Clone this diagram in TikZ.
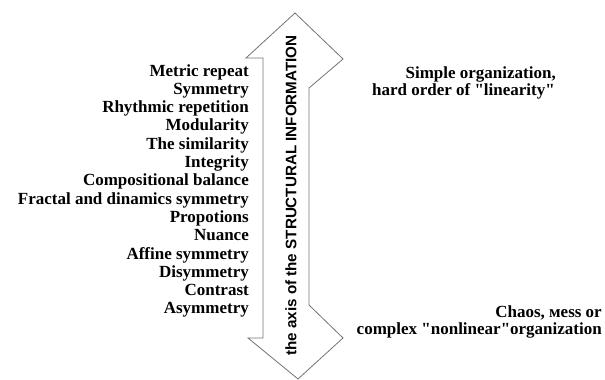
\documentclass[tikz,border=0pt]{standalone}
\usepackage{fontspec}
\newfontfamily\serifbold{Liberation Serif Bold}
\newfontfamily\axisfont{Liberation Sans Bold}
\tikzset{
  item/.style={anchor=base east, inner sep=0pt, font=\serifbold\fontsize{17}{18}\selectfont, text=black},
  note/.style={anchor=base east, inner sep=0pt, font=\serifbold\fontsize{17}{18}\selectfont, text=black},
  axisline/.style={draw=black!55, line width=0.8pt, line join=miter},
  axislabel/.style={inner sep=0pt, rotate=90, font=\axisfont\fontsize{15.2}{16}\selectfont, text=black}
}
\begin{document}
\begin{tikzpicture}[x=1pt,y=-1pt]
\useasboundingbox (0,0) rectangle (605,380);
% double arrow
\coordinate (tt) at (295,13);
\coordinate (trb) at (343,59);
\coordinate (trs) at (309,88);
\coordinate (brs) at (309,305);
\coordinate (brb) at (343,338);
\coordinate (bt) at (298,379);
\coordinate (blb) at (248,338);
\coordinate (bls) at (263,338);
\coordinate (tls) at (263,58);
\coordinate (tlb) at (246,58);
\draw[axisline] (tt) -- (trb) -- (trs) -- (brs) -- (brb) -- (bt) -- (blb) -- (bls) -- (tls) -- (tlb) -- cycle;
\node[axislabel] (axis) at (291,195.5) {the axis of the STRUCTURAL INFORMATION};
% left list
\foreach \t [count=\i] in {Metric repeat,Symmetry,Rhythmic repetition,Modularity,The similarity,Integrity,Compositional balance,Fractal and dinamics symmetry,Propotions,Nuance,Affine symmetry,Disymmetry,Contrast,Asymmetry}{
  \node[item] (l\i) at (249,{76+18.3*(\i-1)}) {\t};
}
% right notes
\node[note] (simple) at (556,78) {Simple organization,};
\node[note] (hard) at (555,95) {hard order of "linearity"};
\node[note] (chaos) at (602,317) {Chaos, мess or};
\node[note] (complex) at (602,334) {complex "nonlinear"organization};
\end{tikzpicture}
\end{document}
